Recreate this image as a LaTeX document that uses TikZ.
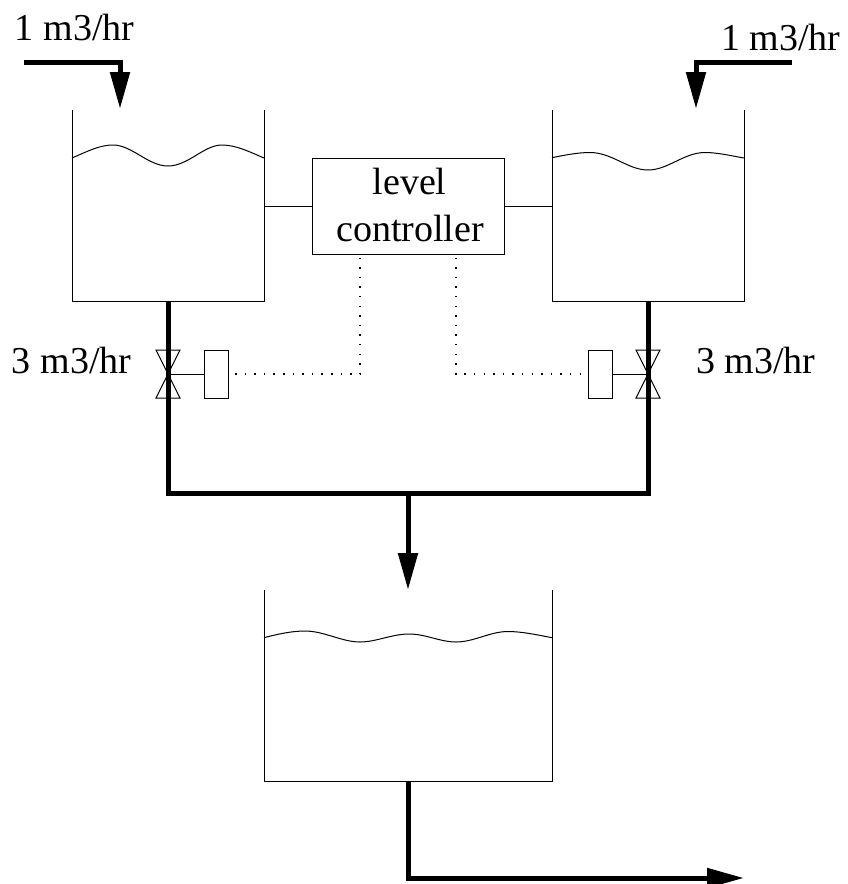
\documentclass[tikz,border=0pt]{standalone}
\usepackage{fontspec}
\setmainfont{Liberation Serif}
\usetikzlibrary{arrows.meta}
\tikzset{
  thinline/.style={line width=1pt,line join=miter},
  pipe/.style={line width=5pt,line join=miter},
  flow/.style={pipe,-{Triangle[length=37pt,width=19pt]}},
  signal/.style={line width=1.1pt,dash pattern=on 1.5pt off 8.1pt,dash phase=-3pt},
  label/.style={inner sep=0pt,outer sep=0pt,font=\fontsize{38}{38}\selectfont,anchor=base west},
  ctrltext/.style={inner sep=0pt,outer sep=0pt,font=\fontsize{38}{38}\selectfont,anchor=base},
  ctrlbox/.style={draw,line width=1pt,minimum width=192pt,minimum height=96pt,inner sep=0pt},
  actbox/.style={draw,line width=1pt,minimum width=24pt,minimum height=48pt,inner sep=0pt},
}
\begin{document}
\begin{tikzpicture}[x=1pt,y=-1pt]
\useasboundingbox (0,0) rectangle (847,884);
% named points
\coordinate (t1tl) at (72,110); \coordinate (t1bl) at (72,301); \coordinate (t1br) at (264,301); \coordinate (t1tr) at (264,110);
\coordinate (t2tl) at (552,110); \coordinate (t2bl) at (552,301); \coordinate (t2br) at (744,301); \coordinate (t2tr) at (744,110);
\coordinate (t3tl) at (264,590); \coordinate (t3bl) at (264,781); \coordinate (t3br) at (552,781); \coordinate (t3tr) at (552,590);
\coordinate (o1) at (168,301); \coordinate (o2) at (648,301); \coordinate (j1) at (168,493); \coordinate (j2) at (648,493); \coordinate (j) at (408,493);
\coordinate (t3in) at (408,590); \coordinate (o3) at (408,781); \coordinate (e3) at (408,878); \coordinate (e4) at (744,878);
\coordinate (i1a) at (24,62); \coordinate (i1b) at (120,62); \coordinate (i1c) at (120,109);
\coordinate (i2a) at (792,62); \coordinate (i2b) at (696,62); \coordinate (i2c) at (696,109);
\coordinate (v1) at (168,374); \coordinate (v2) at (648,374);
\coordinate (d1) at (360,374); \coordinate (d2) at (456,374);
\coordinate (lw1) at (264,206); \coordinate (lw2) at (552,206);
% tanks
\draw[thinline] (t1tl) -- (t1bl) -- (t1br) -- (t1tr);
\draw[thinline] (t2tl) -- (t2bl) -- (t2br) -- (t2tr);
\draw[thinline] (t3tl) -- (t3bl) -- (t3br) -- (t3tr);
% water surfaces
\draw[thinline] (72,158) .. controls (88,151) and (100,145) .. (113,145) .. controls (132,145) and (148,166) .. (168,166) .. controls (188,166) and (204,145) .. (222,145) .. controls (236,145) and (250,152) .. (264,158);
\draw[thinline] (552,157.7) .. controls (565,155) and (578,152.5) .. (590,152.5) .. controls (612,152.5) and (628,170) .. (648,170) .. controls (668,170) and (684,152.5) .. (705,152.5) .. controls (718,152.5) and (732,156) .. (744,158);
\draw[thinline] (264,637.7) .. controls (278,634) and (292,631) .. (305,631) .. controls (324,631) and (342,642) .. (360,642) .. controls (376,642) and (392,634) .. (409,634) .. controls (426,634) and (440,642) .. (456,642) .. controls (474,642) and (490,631.5) .. (508,631.5) .. controls (522,631.5) and (538,635) .. (552,637.7);
% controller
\node[ctrlbox] (ctrl) at (408,206) {};
\node[ctrltext] (lvl) at (409.5,194.3) {level};
\node[ctrltext] (con) at (410,241.7) {controller};
\draw[thinline] (lw1) -- (ctrl.west |- lw1);
\draw[thinline] (lw2) -- (ctrl.east |- lw2);
% pipes
\draw[pipe] (o1) -- (j1) -- (j2) -- (o2);
\draw[flow] (j) -- (t3in);
\draw[flow] (o3) -- (e3) -- (e4);
\draw[flow] (i1a) -- (i1b) -- (i1c);
\draw[flow] (i2a) -- (i2b) -- (i2c);
% valves
\draw[thinline] (v1) -- ++(-12,-24) -- ++(24,0) -- cycle;
\draw[thinline] (v1) -- ++(-12,24) -- ++(24,0) -- cycle;
\draw[thinline] (v2) -- ++(-12,-24) -- ++(24,0) -- cycle;
\draw[thinline] (v2) -- ++(-12,24) -- ++(24,0) -- cycle;
\node[actbox] (a1) at (216,374) {};
\node[actbox] (a2) at (600,374) {};
\draw[thinline] (v1) -- (a1.west);
\draw[thinline] (v2) -- (a2.east);
% signals
\draw[signal] (d1 |- ctrl.south) -- (d1) -- (a1.east);
\draw[signal] (d2 |- ctrl.south) -- (d2) -- (a2.west);
% labels
\node[label] (q1) at (15,40.5) {1 m3/hr};
\node[label] (q2) at (721,50) {1 m3/hr};
\node[label] (q3) at (12,373) {3 m3/hr};
\node[label] (q4) at (696,373) {3 m3/hr};
\end{tikzpicture}
\end{document}
